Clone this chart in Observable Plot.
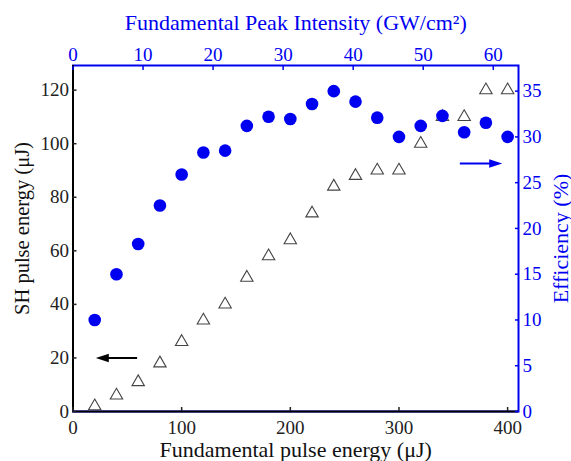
<!DOCTYPE html>
<html>
<head>
<meta charset="utf-8">
<script src="https://cdn.jsdelivr.net/npm/d3@7"></script>
<script src="https://cdn.jsdelivr.net/npm/@observablehq/plot@0.6"></script>
<style>
  body { margin: 0; background: white; }
  #chart { position: relative; width: 571px; height: 461px; }
  #chart svg { position: absolute; left: 0; top: 0; font-family: 'Liberation Serif', 'Times New Roman', serif !important; }
  #chart svg text, #chart svg g { font-family: 'Liberation Serif', 'Times New Roman', serif !important; font-variant: normal !important; }
</style>
</head>
<body>
<div id="chart"></div>
<script>
// Data
const energy = [20, 40, 60, 80, 100, 120, 140, 160, 180, 200, 220, 240, 260, 280, 300, 320, 340, 360, 380, 400];
const shEnergy = [2, 6, 11, 18, 26, 34, 40, 50, 58, 64, 74, 84, 88, 90, 90, 100, 110, 110, 120, 120];
const efficiency = [10.0, 15.0, 18.3, 22.5, 25.9, 28.3, 28.5, 31.2, 32.2, 31.95, 33.6, 35.0, 33.85, 32.1, 30.0, 31.2, 32.3, 30.5, 31.55, 30.0];

const xTicks = [0, 100, 200, 300, 400];
const yTicks = [0, 20, 40, 60, 80, 100, 120];
const effTicks = [0, 5, 10, 15, 20, 25, 30, 35];
const intensityTicks = [0, 10, 20, 30, 40, 50, 60];

const xDomain = [0, 410];
const yDomain = [0, 129.2];
const effDomain = [0, 37.8];
const intensityDomain = [0, 63.6];

// annotation arrows
const shArrow = [{x1: 59, x2: 21, y: 20}];
const effArrow = [{x1: 356, x2: 395, y: 27.1}];

const shData = energy.map((e, i) => ({e, v: shEnergy[i]}));
const effData = energy.map((e, i) => ({e, v: efficiency[i]}));

const BLUE = "#0000f0";
const W = 571, H = 461;
const margins = {marginLeft: 72.5, marginRight: 53, marginTop: 65, marginBottom: 50};
const font = "Liberation Serif";

const headLeft = {draw(ctx) { ctx.moveTo(0, 0); ctx.lineTo(13, -4.2); ctx.lineTo(13, 4.2); ctx.closePath(); }};
const headRight = {draw(ctx) { ctx.moveTo(0, 0); ctx.lineTo(-13, -4.2); ctx.lineTo(-13, 4.2); ctx.closePath(); }};

// Layer A: SH pulse energy (left / bottom)
const plotA = Plot.plot({
  width: W, height: H, ...margins,
  style: {fontFamily: font, background: "none", overflow: "visible"},
  x: {domain: xDomain},
  y: {domain: yDomain},
  marks: [
    Plot.frame({stroke: BLUE, strokeWidth: 2}),
    Plot.ruleX([0], {stroke: "black", strokeWidth: 2}),
    Plot.ruleY([0], {stroke: "black", strokeWidth: 2}),
    Plot.axisY({ticks: yTicks, tickSize: -4, tickPadding: 8, fontSize: 19, fontFamily: font, label: null, color: "#222", strokeWidth: 1.5}),
    Plot.axisX({ticks: xTicks, tickSize: -4, tickPadding: 13, fontSize: 19, fontFamily: font, label: null, color: "#222", strokeWidth: 1.5}),
    Plot.dot(shData, {x: "e", y: "v", symbol: "triangle", r: 4.6, stroke: "#444", strokeWidth: 1.1, fill: "none"}),
    Plot.link(shArrow, {x1: "x1", x2: d => d.x2 + 8, y1: "y", y2: "y", stroke: "black", strokeWidth: 2}),
    Plot.dot(shArrow, {x: "x2", y: "y", symbol: headLeft, fill: "black", stroke: "none"}),
    Plot.text(["Fundamental pulse energy (μJ)"], {frameAnchor: "bottom", dy: 38, fontSize: 22, fontFamily: font, textAnchor: "middle", lineAnchor: "middle", fill: "#111"}),
    Plot.text(["SH pulse energy (μJ)"], {frameAnchor: "left", dx: -51, dy: -10, rotate: -90, fontSize: 20.5, fontFamily: font, textAnchor: "middle", lineAnchor: "middle", fill: "#111"})
  ]
});

// Layer B: Efficiency (right)
const plotB = Plot.plot({
  width: W, height: H, ...margins,
  style: {fontFamily: font, background: "none", overflow: "visible"},
  x: {domain: xDomain, axis: null},
  y: {domain: effDomain},
  marks: [
    Plot.axisY({anchor: "right", ticks: effTicks, tickSize: -4, tickPadding: 8, fontSize: 19, fontFamily: font, label: null, color: BLUE, strokeWidth: 1.5}),
    Plot.dot(effData, {x: "e", y: "v", r: 6.3, fill: BLUE, stroke: "none"}),
    Plot.link(effArrow, {x1: "x1", x2: d => d.x2 - 8, y1: "y", y2: "y", stroke: BLUE, strokeWidth: 2}),
    Plot.dot(effArrow, {x: "x2", y: "y", symbol: headRight, fill: BLUE, stroke: "none"}),
    Plot.text(["Efficiency (%)"], {frameAnchor: "right", dx: 42, rotate: -90, fontSize: 22, fontFamily: font, textAnchor: "middle", lineAnchor: "middle", fill: BLUE})
  ]
});

// Layer C: Fundamental peak intensity (top)
const plotC = Plot.plot({
  width: W, height: H, ...margins,
  style: {fontFamily: font, background: "none", overflow: "visible"},
  x: {domain: intensityDomain},
  y: {domain: yDomain, axis: null},
  marks: [
    Plot.axisX({anchor: "top", ticks: intensityTicks, tickSize: -4, tickPadding: 9, fontSize: 19, fontFamily: font, label: null, color: BLUE, strokeWidth: 1.5}),
    Plot.text(["Fundamental Peak Intensity (GW/cm²)"], {frameAnchor: "top", dy: -43, fontSize: 22, fontFamily: font, textAnchor: "middle", lineAnchor: "middle", fill: BLUE})
  ]
});

const c = document.getElementById("chart");
c.append(plotA, plotB, plotC);
</script>
</body>
</html>
